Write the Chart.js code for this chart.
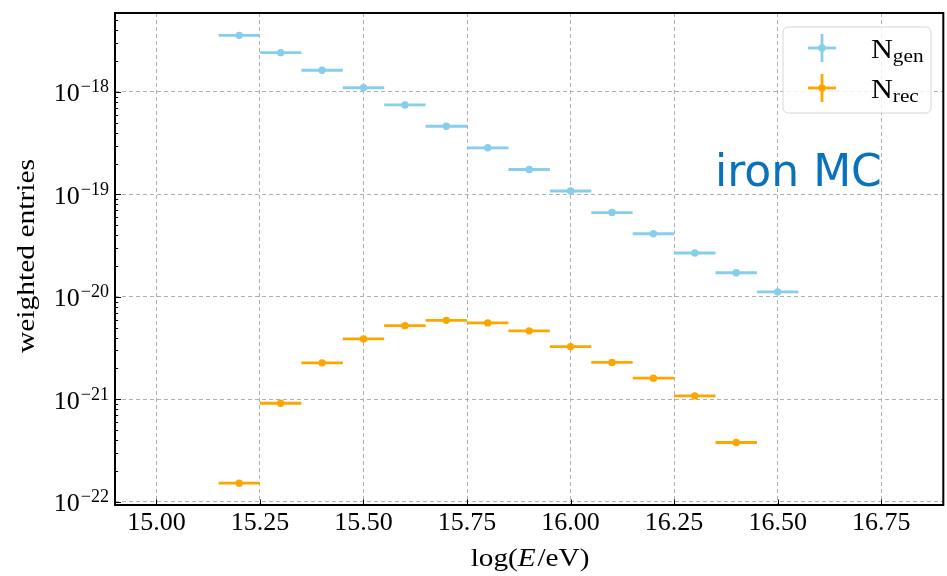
<!DOCTYPE html>
<html>
<head>
<meta charset="utf-8">
<script src="https://cdn.jsdelivr.net/npm/chart.js@4/dist/chart.umd.min.js"></script>
<style>
  html, body { margin: 0; padding: 0; background: #ffffff; }
  #wrap { width: 947px; height: 576px; }
</style>
</head>
<body>
<div id="wrap"><canvas id="c" width="947" height="576"></canvas></div>
<script>
// Energy bins, log10(E/eV)
const binCenters = [15.2, 15.3, 15.4, 15.5, 15.6, 15.7, 15.8, 15.9, 16.0, 16.1, 16.2, 16.3, 16.4, 16.5];
const binHalfWidth = 0.05;

// Weighted entries per bin
const nGen = [3.57e-18, 2.42e-18, 1.63e-18, 1.10e-18, 7.47e-19, 4.63e-19, 2.85e-19,
              1.75e-19, 1.08e-19, 6.65e-20, 4.13e-20, 2.68e-20, 1.72e-20, 1.12e-20];
const nRec = [1.52e-22, 9.16e-22, 2.27e-21, 3.89e-21, 5.24e-21, 5.90e-21, 5.57e-21,
              4.66e-21, 3.27e-21, 2.29e-21, 1.61e-21, 1.08e-21, 3.79e-22];

// Axis ticks and limits
const xTicks = [15.00, 15.25, 15.50, 15.75, 16.00, 16.25, 16.50, 16.75];
const xTickLabels = ['15.00', '15.25', '15.50', '15.75', '16.00', '16.25', '16.50', '16.75'];
const yDecades = [-22, -21, -20, -19, -18];
const xLimits = [14.9, 16.9];
const yLimits = [9.3e-23, 5.9e-18];

// Series labels: main symbol and subscript
const seriesNames = [['N', 'gen'], ['N', 'rec']];
const seriesColors = ['#87ceeb', '#ffa500'];
const annotationText = 'iron MC';
const xTitle = ['log(', 'E', '/eV)'];
const yTitle = 'weighted entries';

const SERIF = '"Liberation Serif", "Times New Roman", serif';

function binSegments(values) {
  const pts = [];
  values.forEach((v, i) => {
    const c = binCenters[i];
    pts.push({ x: c - binHalfWidth, y: v });
    pts.push({ x: c + binHalfWidth, y: v });
    pts.push({ x: c + binHalfWidth, y: null });
  });
  return pts;
}
function binPoints(values) {
  return values.map((v, i) => ({ x: binCenters[i], y: v }));
}

const seriesValues = [nGen, nRec];
const datasets = [];
seriesValues.forEach((vals, k) => {
  datasets.push({
    label: seriesNames[k].join('_'),
    data: binSegments(vals),
    showLine: true,
    spanGaps: false,
    borderColor: seriesColors[k],
    borderWidth: 2.8,
    pointRadius: 0,
    pointHoverRadius: 0,
    order: 2 - k
  });
  datasets.push({
    label: seriesNames[k].join('_') + ' centre',
    data: binPoints(vals),
    showLine: false,
    pointRadius: 3.7,
    pointBorderWidth: 0,
    pointBackgroundColor: seriesColors[k],
    pointHoverRadius: 3.7,
    order: 2 - k
  });
});

const decorPlugin = {
  id: 'decor',
  afterDatasetsDraw(chart) {
    const ctx = chart.ctx;
    const a = chart.chartArea;
    const xs = chart.scales.x, ys = chart.scales.y;
    ctx.save();
    // inward ticks
    ctx.strokeStyle = '#000';
    ctx.lineWidth = 1;
    xTicks.forEach(t => {
      const px = Math.round(xs.getPixelForValue(t)) + 0.5;
      ctx.beginPath(); ctx.moveTo(px, a.bottom); ctx.lineTo(px, a.bottom - 5.5); ctx.stroke();
    });
    const lo = Math.floor(Math.log10(yLimits[0])), hi = Math.ceil(Math.log10(yLimits[1]));
    for (let d = lo; d <= hi; d++) {
      for (let m = 1; m <= 9; m++) {
        const v = m * Math.pow(10, d);
        if (v < yLimits[0] || v > yLimits[1]) continue;
        const py = Math.round(ys.getPixelForValue(v)) + 0.5;
        const len = m === 1 ? 6 : 3.2;
        ctx.beginPath(); ctx.moveTo(a.left, py); ctx.lineTo(a.left + len, py); ctx.stroke();
      }
    }
    // frame
    ctx.lineWidth = 2;
    ctx.strokeRect(a.left, a.top, a.right - a.left, a.bottom - a.top);
    ctx.restore();
  },
  afterDraw(chart) {
    const ctx = chart.ctx;
    const a = chart.chartArea;
    const ys = chart.scales.y;
    ctx.save();
    ctx.fillStyle = '#000';
    // y tick labels 10^n
    yDecades.forEach(d => {
      const py = ys.getPixelForValue(Math.pow(10, d));
      const sup = '\u2212' + Math.abs(d);
      ctx.font = '18px ' + SERIF;
      const ws = ctx.measureText(sup).width;
      ctx.font = '26px ' + SERIF;
      const wb = ctx.measureText('10').width;
      const right = a.left - 6;
      ctx.textAlign = 'left';
      ctx.textBaseline = 'alphabetic';
      ctx.fillText('10', right - ws - wb - 1, py + 9.5);
      ctx.font = '18px ' + SERIF;
      ctx.fillText(sup, right - ws, py + 0.5);
    });
    // y title
    ctx.save();
    ctx.translate(34, (a.top + a.bottom) / 2 - 3);
    ctx.rotate(-Math.PI / 2);
    ctx.scale(1.18, 1);
    ctx.font = '25px ' + SERIF;
    ctx.textAlign = 'center';
    ctx.textBaseline = 'alphabetic';
    ctx.fillText(yTitle, 0, 0);
    ctx.restore();
    // x title with italic E
    ctx.save();
    const parts = [
      { t: xTitle[0], f: '25px ' + SERIF },
      { t: xTitle[1], f: 'italic 25px ' + SERIF },
      { t: xTitle[2], f: '25px ' + SERIF }
    ];
    let total = 0;
    parts.forEach(p => { ctx.font = p.f; p.w = ctx.measureText(p.t).width; total += p.w; });
    const sx = 1.17;
    ctx.translate((a.left + a.right) / 2, 566);
    ctx.scale(sx, 1);
    let x0 = -total / 2;
    ctx.textAlign = 'left';
    parts.forEach(p => { ctx.font = p.f; ctx.fillText(p.t, x0, 0); x0 += p.w + (p.t === 'E' ? 1.5 : 0); });
    ctx.restore();
    // annotation
    ctx.font = '44px "DejaVu Sans", sans-serif';
    ctx.fillStyle = '#0a72bd';
    ctx.textAlign = 'left';
    ctx.fillText(annotationText, 715, 186);
    // legend box
    const bx = 783, by = 27, bw = 148, bh = 86, r = 5;
    ctx.beginPath();
    ctx.moveTo(bx + r, by);
    ctx.arcTo(bx + bw, by, bx + bw, by + bh, r);
    ctx.arcTo(bx + bw, by + bh, bx, by + bh, r);
    ctx.arcTo(bx, by + bh, bx, by, r);
    ctx.arcTo(bx, by, bx + bw, by, r);
    ctx.closePath();
    ctx.fillStyle = 'rgba(255,255,255,0.8)';
    ctx.fill();
    ctx.strokeStyle = '#d6d6d6';
    ctx.lineWidth = 1;
    ctx.stroke();
    // legend entries
    const rowY = [48, 88];
    seriesNames.forEach((nm, k) => {
      const cy = rowY[k], cx = 822;
      ctx.strokeStyle = seriesColors[k];
      ctx.lineWidth = 2.8;
      ctx.beginPath(); ctx.moveTo(cx - 14, cy); ctx.lineTo(cx + 14, cy); ctx.stroke();
      ctx.beginPath(); ctx.moveTo(cx, cy - 14); ctx.lineTo(cx, cy + 14); ctx.stroke();
      ctx.fillStyle = seriesColors[k];
      ctx.beginPath(); ctx.arc(cx, cy, 3.7, 0, Math.PI * 2); ctx.fill();
      ctx.fillStyle = '#000';
      ctx.save();
      ctx.translate(871, cy + 10);
      ctx.scale(1.12, 1);
      ctx.font = '27px ' + SERIF;
      ctx.fillText(nm[0], 0, 0);
      const wN = ctx.measureText(nm[0]).width;
      ctx.font = '19px ' + SERIF;
      ctx.fillText(nm[1], wN, 4);
      ctx.restore();
    });
    ctx.restore();
  }
};

new Chart(document.getElementById('c'), {
  type: 'scatter',
  data: { datasets },
  plugins: [decorPlugin],
  options: {
    responsive: false,
    animation: false,
    devicePixelRatio: 1,
    layout: { padding: { top: 13, right: 2, left: 0, bottom: 0 } },
    plugins: { legend: { display: false }, tooltip: { enabled: false } },
    events: [],
    scales: {
      x: {
        type: 'linear',
        min: xLimits[0],
        max: xLimits[1],
        afterBuildTicks: s => { s.ticks = xTicks.map(v => ({ value: v })); },
        afterFit: s => { s.height = 71; },
        grid: { color: '#b0b0b0', lineWidth: 1, drawTicks: false },
        border: { display: false, dash: [4, 3] },
        ticks: {
          padding: 3,
          color: '#000',
          font: { family: SERIF, size: 26 },
          maxRotation: 0,
          autoSkip: false,
          callback: (v) => { const i = xTicks.indexOf(v); return i >= 0 ? xTickLabels[i] : ''; }
        }
      },
      y: {
        type: 'logarithmic',
        min: yLimits[0],
        max: yLimits[1],
        afterBuildTicks: s => { s.ticks = yDecades.map(d => ({ value: Math.pow(10, d) })); },
        afterFit: s => { s.width = 115; },
        grid: { color: '#b0b0b0', lineWidth: 1, drawTicks: false },
        border: { display: false, dash: [4, 3] },
        ticks: { display: false }
      }
    }
  }
});
</script>
</body>
</html>
